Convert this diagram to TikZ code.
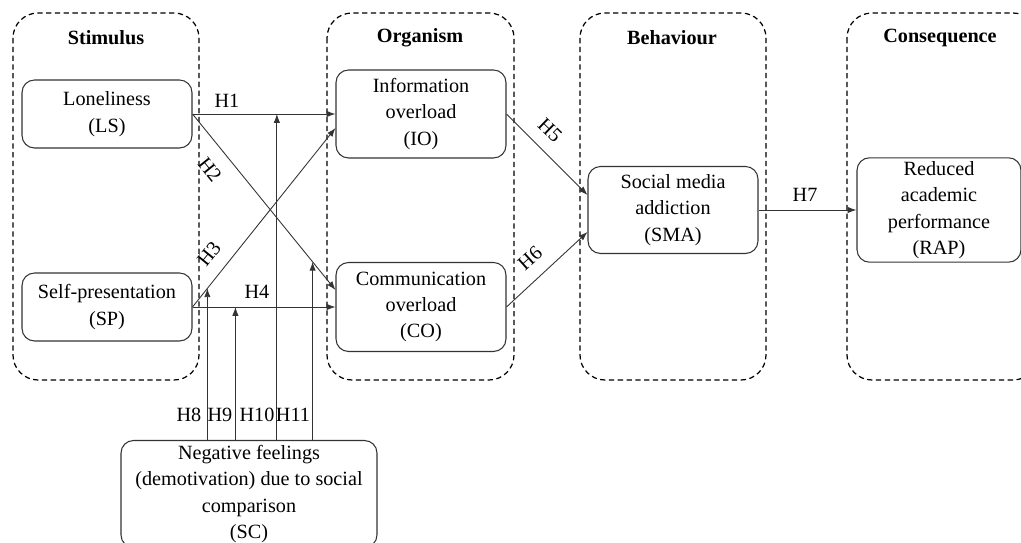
\documentclass[tikz,border=0pt]{standalone}
\usepackage{fontspec}
\setmainfont{Liberation Serif}
\usetikzlibrary{arrows.meta,calc}
\begin{document}
\begin{tikzpicture}[x=0.02cm,y=-0.02cm,
  every node/.style={font=\fontsize{11.5}{15}\selectfont},
  container/.style={draw=black,line width=0.7pt,dash pattern=on 3pt off 2pt,rounded corners=0.5cm},
  title/.style={font=\fontsize{11.5}{15}\selectfont\bfseries},
  box/.style={draw=black!80,line width=0.6pt,rounded corners=0.25cm,align=center,inner sep=2pt},
  conn/.style={draw=black!80,line width=0.5pt,-{Latex[length=5pt,width=3.6pt]}},
  lbl/.style={inner sep=0.5pt}]
\useasboundingbox (0,0) rectangle (1021,543);
\clip (0,0) rectangle (1021,543);
% containers
\draw[container] (13,13) rectangle (199,380);
\draw[container] (327,13) rectangle (514,380);
\draw[container] (580,13) rectangle (766,380);
\draw[container] (847,13) rectangle (1038,380);
\node[title] (tS) at (106,38) {Stimulus};
\node[title] (tO) at (420,38) {Organism};
\node[title] (tB) at (672,38) {Behaviour};
\node[title] (tC) at (940,38) {Consequence};
% nodes
\node[box,minimum width=3.4cm,minimum height=1.36cm] (LS) at (107,114) {Loneliness\\(LS)};
\node[box,minimum width=3.4cm,minimum height=1.36cm] (SP) at (107,307) {Self-presentation\\(SP)};
\node[box,minimum width=3.4cm,minimum height=1.76cm] (IO) at (421,114) {Information\\overload\\(IO)};
\node[box,minimum width=3.4cm,minimum height=1.78cm] (CO) at (421,307) {Communication\\overload\\(CO)};
\node[box,minimum width=3.4cm,minimum height=1.74cm] (SMA) at (673,210) {Social media\\addiction\\(SMA)};
\node[box,minimum width=3.28cm,minimum height=1.92cm] (RAP) at (939,210) {Reduced\\academic\\performance\\(RAP)};
\node[box,minimum width=5.12cm,minimum height=2.14cm] (SC) at (249,494) {Negative feelings\\(demotivation) due to social\\comparison\\(SC)};
% main paths
\draw[conn] (LS.east) -- coordinate[pos=0.59] (m10) (IO.west);
\draw[conn] (LS.east) -- coordinate[pos=0.84] (m11) ($(CO.west)+(0,-17)$);
\draw[conn] (SP.east) -- coordinate[pos=0.104] (m8) ($(IO.west)+(0,14)$);
\draw[conn] (SP.east) -- coordinate[pos=0.30] (m9) (CO.west);
\draw[conn] (IO.east) -- ($(SMA.west)+(0,-15)$);
\draw[conn] (CO.east) -- ($(SMA.west)+(0,22)$);
\draw[conn] (SMA.east) -- (RAP.west);
% moderators
\draw[conn] (SC.north -| m8) -- (m8);
\draw[conn] (SC.north -| m9) -- (m9);
\draw[conn] (SC.north -| m10) -- (m10);
\draw[conn] (SC.north -| m11) -- (m11);
% labels
\node[lbl] (h1) at (227,101) {H1};
\node[lbl,rotate=-51] (h2) at (210,170) {H2};
\node[lbl,rotate=51] (h3) at (209,254) {H3};
\node[lbl] (h4) at (257,292) {H4};
\node[lbl,rotate=-44] (h5) at (550,130) {H5};
\node[lbl,rotate=42] (h6) at (530,258) {H6};
\node[lbl] (h7) at (805,195) {H7};
\node[lbl] (h8) at (189,415) {H8};
\node[lbl] (h9) at (220,415) {H9};
\node[lbl] (h10) at (257,415) {H10};
\node[lbl] (h11) at (293,415) {H11};
\end{tikzpicture}
\end{document}
